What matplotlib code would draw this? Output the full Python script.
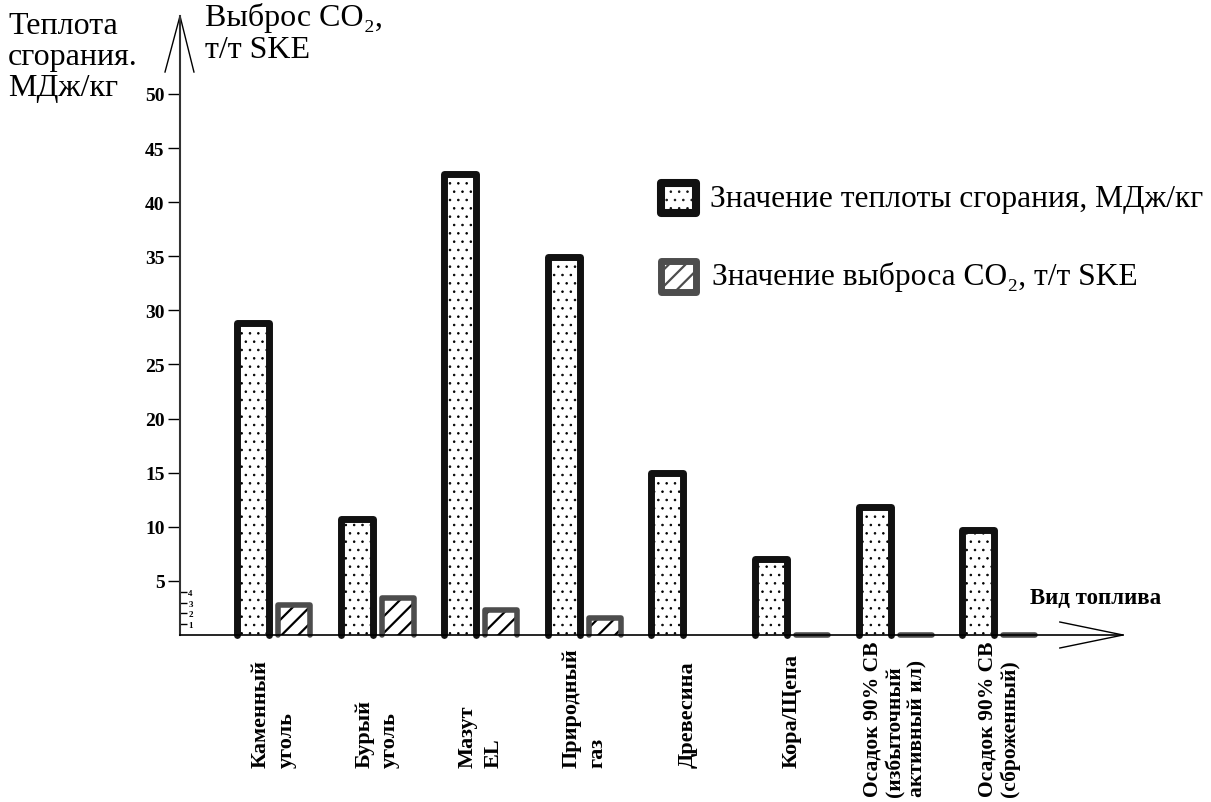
import numpy as np
import matplotlib.pyplot as plt
from matplotlib.patches import Rectangle

plt.rcParams['font.family'] = ['Liberation Serif', 'DejaVu Serif']

# data
fuels = ['Каменный\nуголь', 'Бурый\nуголь', 'Мазут\nEL', 'Природный\nгаз',
         'Древесина', 'Кора/Щепа', 'Осадок 90% СВ\n(избыточный\nактивный ил)',
         'Осадок 90% СВ\n(сброженный)']
heat = [28.8, 10.7, 42.6, 34.9, 15.0, 7.0, 11.8, 9.7]      # МДж/кг
co2 = [2.8, 3.45, 2.35, 1.6, None, 0, 0, 0]               # т/т SKE
heat_ticks = [5, 10, 15, 20, 25, 30, 35, 40, 45, 50]
co2_ticks = [1, 2, 3, 4]

W, H = 1211, 803
fig = plt.figure(figsize=(W / 100, H / 100), dpi=100)


def box(x0, y0, x1, y1):
    # pixel box (from top-left) -> figure fraction rect
    return [x0 / W, 1 - y1 / H, (x1 - x0) / W, (y1 - y0) / H]


ax = fig.add_axes(box(180, 17, 1123, 636))
ax.set_xlim(-0.705, 8.398)
ax.set_ylim(0, 57.2)

x = np.arange(len(fuels))
w = 0.31
off = 0.396


def outlined_bar(xc, h, hatch, edge, lw, hlw):
    with plt.rc_context({'hatch.linewidth': hlw}):
        ax.bar(xc, h, w, color='white', hatch=hatch, edgecolor='black',
               linewidth=0, zorder=2)
    # open-bottom outline with rounded corners
    ax.plot([xc - w / 2, xc - w / 2, xc + w / 2, xc + w / 2], [0, h, h, 0],
            color=edge, lw=lw, solid_joinstyle='round', solid_capstyle='round',
            zorder=3, clip_on=False)


for i in range(len(fuels)):
    outlined_bar(x[i], heat[i], '..', '#111111', 5.0, 0.6)
    if co2[i] is not None:
        outlined_bar(x[i] + off, co2[i], '//', '#4d4d4d', 4.0, 1.6)

# axes look
for s in ['top', 'right']:
    ax.spines[s].set_visible(False)
ax.spines['left'].set_color('#333333')
ax.spines['left'].set_linewidth(1.5)
ax.spines['bottom'].set_linewidth(1.2)
ax.spines['bottom'].set_zorder(5)
ax.set_xticks([])
ax.set_yticks(heat_ticks)
ax.tick_params(axis='y', length=9, width=1, pad=2, labelsize=14)
for lbl in ax.get_yticklabels():
    lbl.set_fontweight('bold')

# small CO2 scale on the inside of the axis
sec = ax.secondary_yaxis(0)
sec.set_alignment('right')
sec.set_yticks(co2_ticks)
sec.tick_params(axis='y', direction='out', length=5, width=1, pad=1, labelsize=6.5)
for s in sec.spines.values():
    s.set_visible(False)
for lbl in sec.get_yticklabels():
    lbl.set_fontweight('bold')

# open arrow heads
ax.plot([-0.0159, 0, 0.0148], [0.9095, 1, 0.9095], transform=ax.transAxes,
        color='black', lw=1, clip_on=False)
ax.plot([0.933, 1, 0.933], [0.021, 0, -0.021], transform=ax.transAxes,
        color='black', lw=1, clip_on=False)

# category labels
for i, name in enumerate(fuels):
    if name.startswith('Осадок'):
        ybot, ls, fs = -0.260, 1.15, 15.5
    else:
        ybot, ls, fs = -0.213, 1.4, 16
    ax.text(x[i] + off / 2, ybot, name, rotation=90, ha='center', va='bottom',
            multialignment='left', transform=ax.get_xaxis_transform(),
            fontsize=fs, fontweight='bold', linespacing=ls)

ax.text(0.901, 0.061, 'Вид топлива', transform=ax.transAxes, fontsize=16.5,
        fontweight='bold', va='center', ha='left')

# axis titles
fig.text(8 / W, 1 - 12 / H, 'Теплота\nсгорания.\nМДж/кг', fontsize=23,
         va='top', ha='left', linespacing=1.1)
fig.text(205 / W, 1 - 3 / H, 'Выброс CO₂,\nт/т SKE', fontsize=23,
         va='top', ha='left', linespacing=1.15)

# legend drawn by hand
with plt.rc_context({'hatch.linewidth': 0.6}):
    fig.add_artist(Rectangle((661 / W, 1 - 214 / H), 35 / W, 30 / H,
                             transform=fig.transFigure, facecolor='white',
                             hatch='..', edgecolor='#111111', lw=5.8,
                             joinstyle='round'))
with plt.rc_context({'hatch.linewidth': 1.6}):
    fig.add_artist(Rectangle((661 / W, 1 - 293 / H), 35 / W, 31 / H,
                             transform=fig.transFigure, facecolor='white',
                             hatch='//', edgecolor='#4d4d4d', lw=5.0,
                             joinstyle='round'))
fig.text(710 / W, 1 - 199 / H, 'Значение теплоты сгорания, МДж/кг',
         fontsize=22.7, va='center', ha='left')
fig.text(712 / W, 1 - 277 / H, 'Значение выброса CO₂, т/т SKE',
         fontsize=22.7, va='center', ha='left')

fig.savefig('out.png', dpi=100)
